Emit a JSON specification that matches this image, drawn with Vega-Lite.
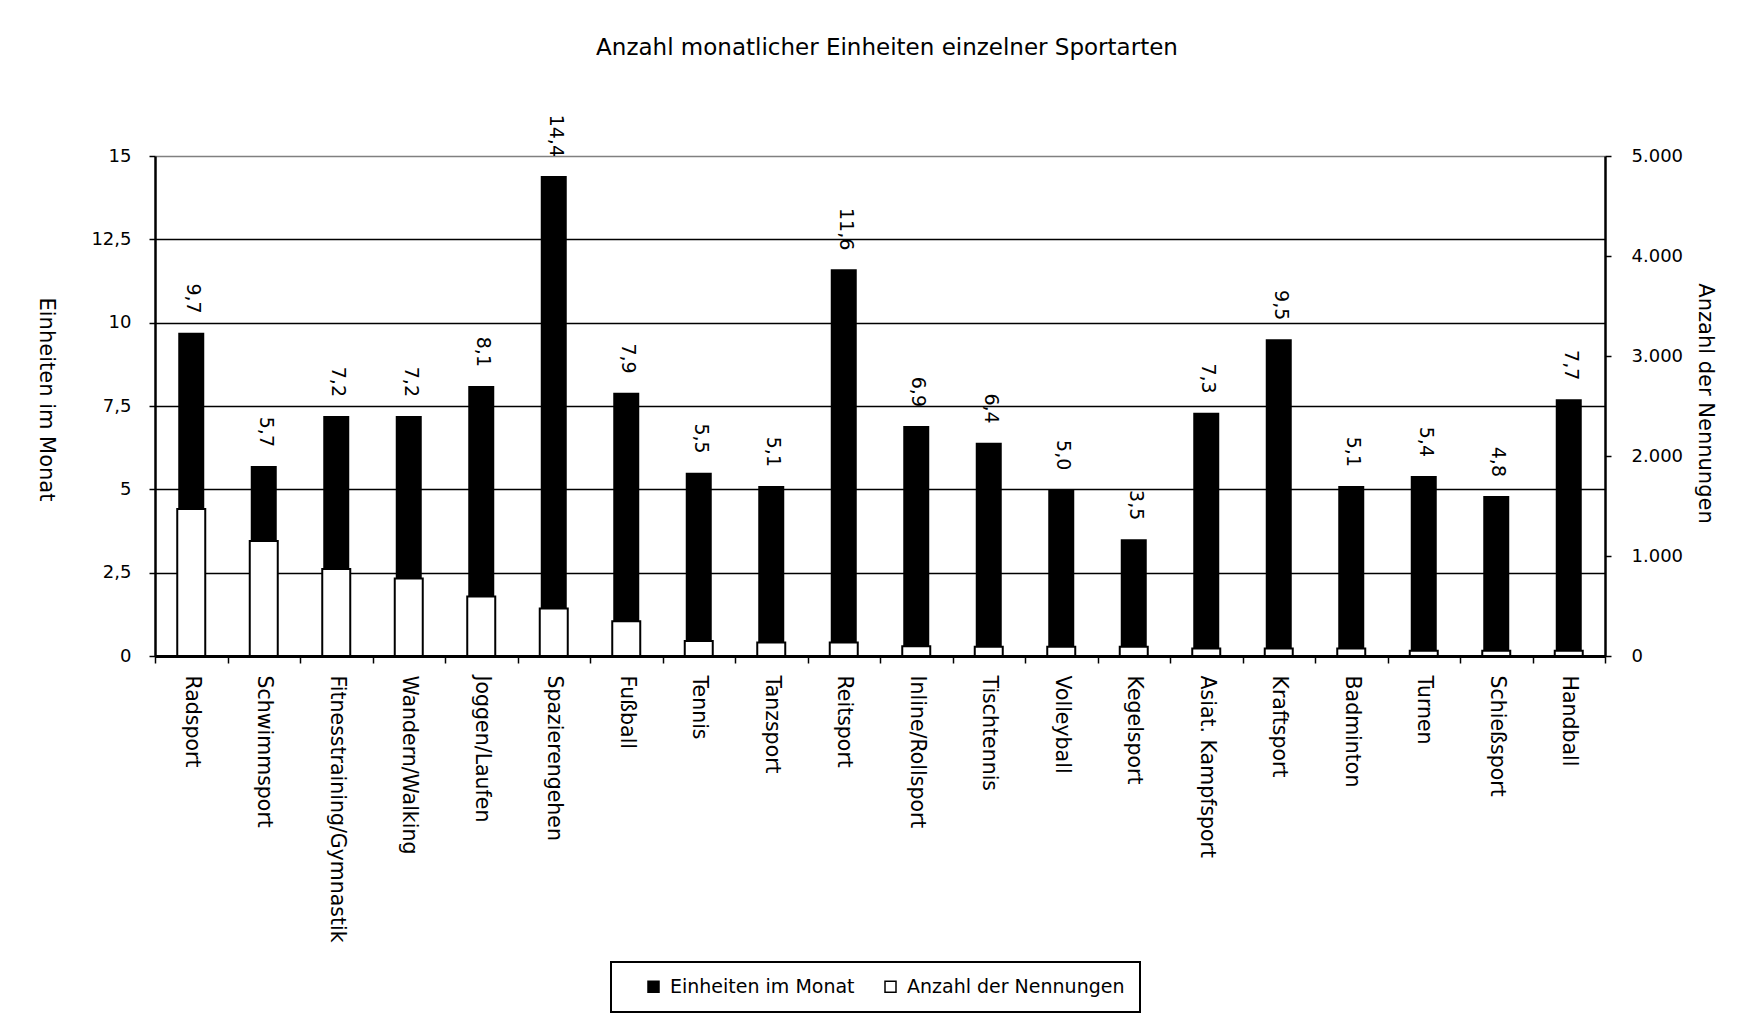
{
  "$schema": "https://vega.github.io/schema/vega-lite/v6.json",
  "width": 1450,
  "height": 500,
  "autosize": {"type": "none"},
  "padding": {"left": 155, "top": 156, "right": 141, "bottom": 364},
  "background": "white",
  "title": {
    "text": "Anzahl monatlicher Einheiten einzelner Sportarten",
    "fontSize": 23,
    "fontWeight": "normal",
    "color": "black",
    "offset": 55,
    "anchor": "middle",
    "dx": 7
  },
  "config": {
    "locale": {"number": {"decimal": ",", "thousands": ".", "grouping": [3], "currency": ["", " €"]}},
    "font": "DejaVu Sans",
    "view": {"stroke": null},
    "axis": {"labelColor": "black", "titleColor": "black", "domainColor": "black", "tickColor": "black", "titleFontWeight": "normal"}
  },
  "data": {
    "values": [
      {"sport": "Radsport", "einheiten": 9.7, "nennungen": 1470},
      {"sport": "Schwimmsport", "einheiten": 5.7, "nennungen": 1150},
      {"sport": "Fitnesstraining/Gymnastik", "einheiten": 7.2, "nennungen": 870},
      {"sport": "Wandern/Walking", "einheiten": 7.2, "nennungen": 775},
      {"sport": "Joggen/Laufen", "einheiten": 8.1, "nennungen": 595},
      {"sport": "Spazierengehen", "einheiten": 14.4, "nennungen": 475},
      {"sport": "Fußball", "einheiten": 7.9, "nennungen": 348},
      {"sport": "Tennis", "einheiten": 5.5, "nennungen": 150},
      {"sport": "Tanzsport", "einheiten": 5.1, "nennungen": 135},
      {"sport": "Reitsport", "einheiten": 11.6, "nennungen": 135},
      {"sport": "Inline/Rollsport", "einheiten": 6.9, "nennungen": 97},
      {"sport": "Tischtennis", "einheiten": 6.4, "nennungen": 93},
      {"sport": "Volleyball", "einheiten": 5.0, "nennungen": 93},
      {"sport": "Kegelsport", "einheiten": 3.5, "nennungen": 93},
      {"sport": "Asiat. Kampfsport", "einheiten": 7.3, "nennungen": 75},
      {"sport": "Kraftsport", "einheiten": 9.5, "nennungen": 75},
      {"sport": "Badminton", "einheiten": 5.1, "nennungen": 75},
      {"sport": "Turnen", "einheiten": 5.4, "nennungen": 52},
      {"sport": "Schießsport", "einheiten": 4.8, "nennungen": 52},
      {"sport": "Handball", "einheiten": 7.7, "nennungen": 52}
    ]
  },
  "encoding": {
    "x": {
      "field": "sport",
      "type": "nominal",
      "sort": null,
      "scale": {"paddingInner": 0, "paddingOuter": 0},
      "axis": {
        "title": null,
        "orient": "bottom",
        "tickBand": "extent",
        "labelAngle": 90,
        "labelAlign": "left",
        "labelBaseline": "middle",
        "labelFontSize": 20.5,
        "labelLimit": 600,
        "labelPadding": 12,
        "tickSize": 7,
        "tickWidth": 1.5,
        "domainWidth": 3,
        "grid": false
      }
    }
  },
  "layer": [
    {
      "mark": {"type": "bar", "size": 26},
      "encoding": {
        "y": {
          "field": "einheiten",
          "type": "quantitative",
          "scale": {"domain": [0, 15], "nice": false},
          "axis": {
            "orient": "left",
            "values": [0, 2.5, 5, 7.5, 10, 12.5, 15],
            "format": ".1~f",
            "grid": true,
            "gridColor": {"condition": {"test": "datum.value >= 15", "value": "#808080"}, "value": "black"},
            "gridWidth": 1.5,
            "domainWidth": 2.5,
            "tickSize": 6,
            "tickWidth": 1.5,
            "labelFontSize": 18,
            "labelPadding": 18,
            "title": "Einheiten im Monat",
            "titleFontSize": 21,
            "titleAngle": 90,
            "titleX": -110,
            "titleY": 243,
            "titleAlign": "center",
            "titleBaseline": "middle"
          }
        },
        "color": {
          "datum": "Einheiten im Monat",
          "type": "nominal",
          "scale": {"domain": ["Einheiten im Monat", "Anzahl der Nennungen"], "range": ["black", "white"]},
          "legend": {
            "title": null,
            "orient": "none",
            "legendX": 456,
            "legendY": 806,
            "direction": "horizontal",
            "strokeColor": "black",
            "padding": 15,
            "labelFontSize": 19,
            "labelLimit": 400,
            "labelColor": "black",
            "labelOffset": 7,
            "columnPadding": 8,
            "symbolOffset": 18,
            "symbolType": "square",
            "symbolSize": 121,
            "symbolStrokeColor": "black",
            "symbolStrokeWidth": 1.5,
            "encode": {"legend": {"update": {"strokeWidth": {"value": 2}}}}
          }
        }
      }
    },
    {
      "mark": {"type": "bar", "size": 28, "stroke": "black", "strokeWidth": 2},
      "encoding": {
        "y": {
          "field": "nennungen",
          "type": "quantitative",
          "scale": {"domain": [0, 5000], "nice": false},
          "axis": {
            "orient": "right",
            "values": [0, 1000, 2000, 3000, 4000, 5000],
            "format": ",d",
            "grid": false,
            "domainWidth": 2.5,
            "tickSize": 6,
            "tickWidth": 1.5,
            "labelFontSize": 18,
            "labelPadding": 20,
            "title": "Anzahl der Nennungen",
            "titleFontSize": 21,
            "titleAngle": 90,
            "titleX": 99,
            "titleY": 247,
            "titleAlign": "center",
            "titleBaseline": "middle"
          }
        },
        "color": {"datum": "Anzahl der Nennungen", "type": "nominal"}
      }
    },
    {
      "mark": {"type": "text", "angle": 90, "align": "right", "baseline": "middle", "dx": -19, "dy": -2, "fontSize": 19, "color": "black"},
      "encoding": {
        "y": {"field": "einheiten", "type": "quantitative", "scale": {"domain": [0, 15], "nice": false}, "axis": null},
        "text": {"field": "einheiten", "type": "quantitative", "format": ".1f"}
      }
    }
  ],
  "resolve": {"scale": {"y": "independent"}}
}
